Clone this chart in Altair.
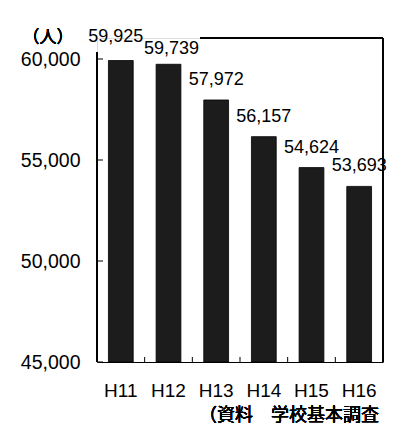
import altair as alt
import pandas as pd

# 児童数の推移（人）
years = ["H11", "H12", "H13", "H14", "H15", "H16"]
counts = [59925, 59739, 57972, 56157, 54624, 53693]
y_ticks = [45000, 50000, 55000, 60000]

df = pd.DataFrame({"year": years, "count": counts})
df["label"] = [f"{v:,}" for v in counts]

W, H = 286, 324
FONT = "Liberation Sans"
JP = "Noto Sans CJK JP"

x_scale = alt.Scale(domain=years, paddingInner=0, paddingOuter=0)
y_scale = alt.Scale(domain=[45000, 61040], zero=False, nice=False)

x_axis = alt.Axis(title=None, domain=True, domainColor="black", domainWidth=1.2,
                  ticks=False, labelFont=FONT, labelFontSize=19,
                  labelColor="black", labelPadding=19, labelAngle=0)
y_axis = alt.Axis(title=None, values=y_ticks, format=",.0f", domain=False,
                  ticks=False, grid=False, labelFont=FONT, labelFontSize=19.5,
                  labelColor="black", labelPadding=17)

base = alt.Chart(df)

bars = base.mark_bar(width=alt.RelativeBandSize(0.52), color="#1c1c1c",
                     stroke="#000000", strokeWidth=0.8).encode(
    x=alt.X("year:N", scale=x_scale, axis=x_axis, title=None),
    y=alt.Y("count:Q", scale=y_scale, axis=y_axis, title=None),
    y2=alt.datum(45000))


def value_labels(sel, dx, dy):
    return base.transform_filter(
        alt.FieldOneOfPredicate(field="year", oneOf=sel)
    ).mark_text(font=FONT, fontSize=18, baseline="bottom", dx=dx, dy=dy,
                color="black").encode(
        x=alt.X("year:N", scale=x_scale, axis=x_axis, title=None),
        y=alt.Y("count:Q", scale=y_scale, axis=y_axis, title=None),
        text="label:N")


# the first two labels are staggered so they do not collide
labels_a = value_labels(years[:1], -5, -15)
labels_b = value_labels(years[1:2], 3, -6)
labels_c = value_labels(years[2:], 0, -11)

# small inward ticks at category boundaries
x_ticks = base.mark_rule(color="black", strokeWidth=1).encode(
    x=alt.X("year:N", scale=x_scale, axis=x_axis, title=None, bandPosition=1),
    y=alt.value(H), y2=alt.value(H - 5))

tick_df = pd.DataFrame({"v": y_ticks})
y_tick_rules = alt.Chart(tick_df).mark_rule(color="black", strokeWidth=1).encode(
    y=alt.Y("v:Q", scale=y_scale, axis=y_axis, title=None),
    x=alt.value(0), x2=alt.value(6))

# frame lines
left_line = base.mark_rule(color="black", strokeWidth=1.2).encode(
    x=alt.value(0), y=alt.value(14), y2=alt.value(H))
right_line = base.mark_rule(color="black", strokeWidth=1).encode(
    x=alt.value(W), y=alt.value(0), y2=alt.value(H))
top_line = base.mark_rule(color="black", strokeWidth=1).encode(
    x=alt.value(103), x2=alt.value(W), y=alt.value(0))

unit = base.mark_text(font=JP, fontSize=17, baseline="middle", align="center",
                      color="black").encode(
    x=alt.value(-49), y=alt.value(0), text=alt.value("（人）"))
source = base.mark_text(font=JP, fontSize=18, baseline="top", align="right",
                        color="black").encode(
    x=alt.value(W - 4), y=alt.value(H + 45), text=alt.value("（資料　学校基本調査"))

chart = alt.layer(
    bars, labels_a, labels_b, labels_c, x_ticks, y_tick_rules,
    left_line, right_line, top_line, unit, source
).properties(
    width=W, height=H,
    autosize=alt.AutoSizeParams(type="none"),
    padding={"left": 97, "top": 38, "right": 10, "bottom": 65},
).configure_view(stroke=None).configure(background="white")

chart.save("out.html", embed_options={"renderer": "svg", "actions": False})
